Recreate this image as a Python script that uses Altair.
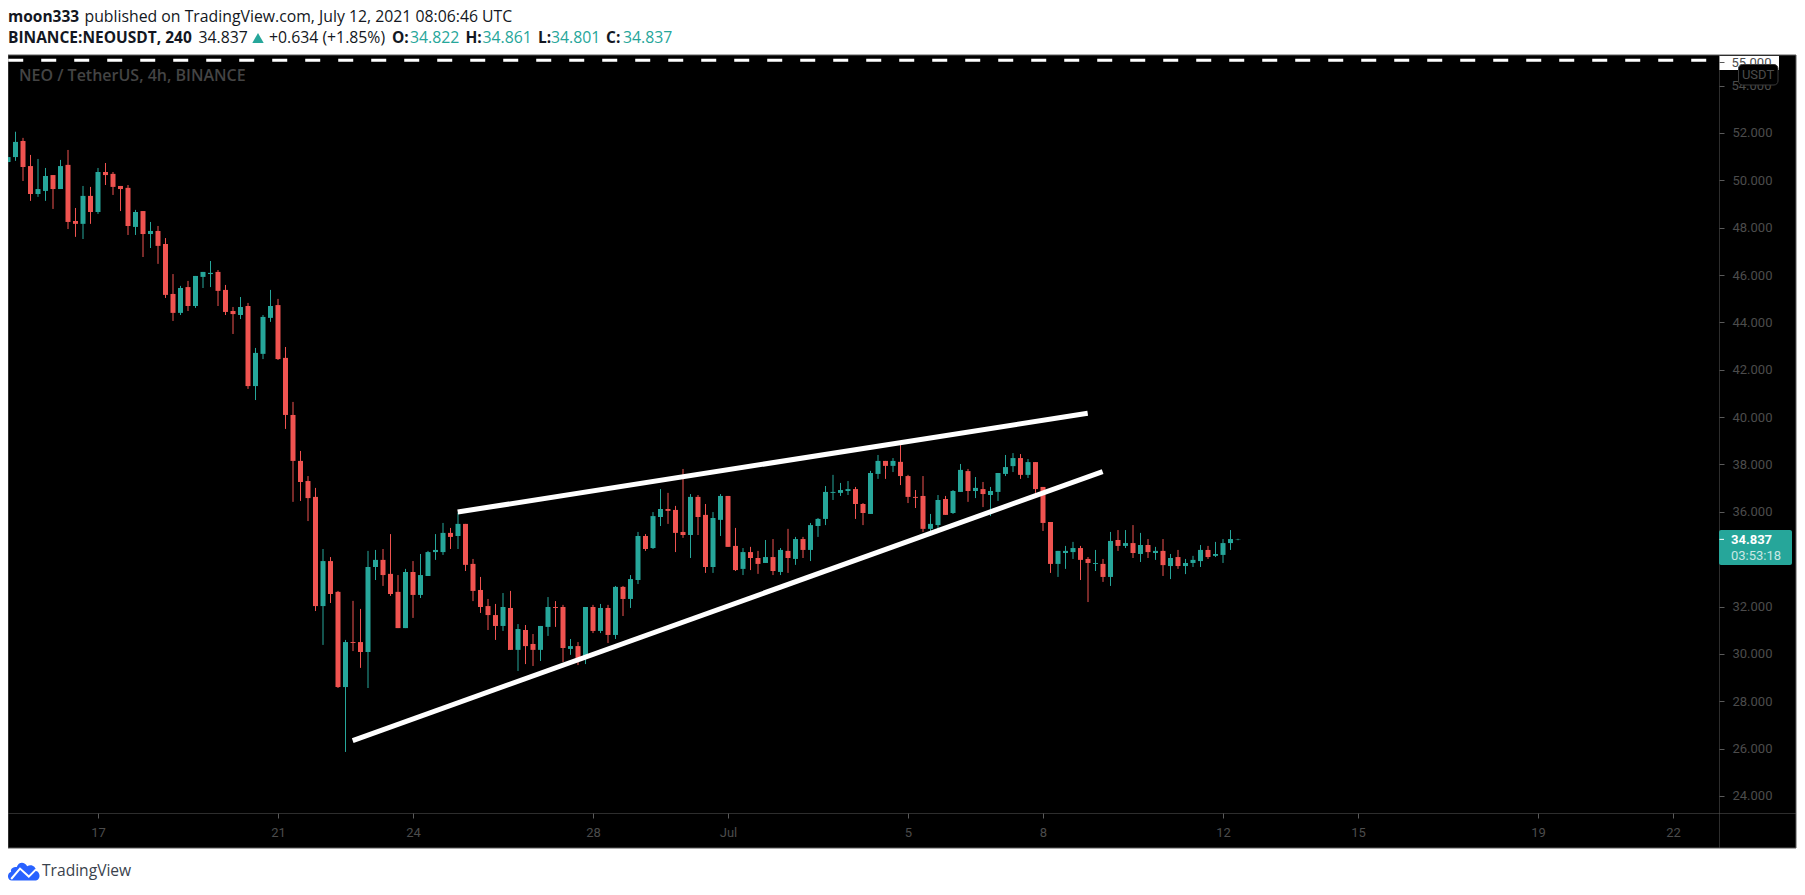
import altair as alt
import pandas as pd

FIRST_INDEX = -1
OPEN = [50.77,50.98,51.66,50.60,49.42,49.55,50.22,49.63,50.65,48.28,48.16,49.34,48.66,50.35,50.27,49.76,49.68,48.03,48.70,47.73,47.86,47.31,45.20,44.40,45.49,44.69,45.92,46.04,46.13,45.37,44.48,44.31,44.69,41.31,42.67,44.19,44.73,42.50,40.09,38.15,37.30,36.63,32.02,33.92,32.62,28.60,30.50,30.50,30.08,33.67,33.97,33.38,32.62,31.09,33.46,32.49,33.29,34.30,34.30,35.11,34.98,35.49,33.80,32.70,32.02,31.64,31.18,31.94,30.17,31.01,30.42,30.17,31.14,31.98,31.98,30.21,30.33,29.83,31.98,30.97,31.94,30.80,32.83,32.32,33.12,34.98,34.47,35.78,36.12,36.08,35.15,35.02,36.63,35.87,33.67,35.66,36.67,34.56,33.59,34.30,34.05,33.84,34.09,33.46,34.35,34.01,34.85,34.39,35.40,35.70,36.80,36.80,36.88,36.96,36.33,35.91,37.60,38.15,37.94,38.11,37.51,36.63,36.67,35.28,35.44,36.54,35.95,36.84,37.72,36.88,36.96,36.71,36.84,37.60,37.93,38.27,37.56,38.10,37.05,35.57,33.80,34.26,34.30,34.47,34.01,33.80,33.80,33.25,34.81,34.56,34.68,34.22,34.60,34.26,34.35,33.71,34.09,33.71,33.84,33.92,34.39,34.14,34.18,34.68,34.822]
HIGH = [50.98,52.05,51.79,51.07,50.90,50.52,50.22,50.86,51.28,48.83,49.76,49.72,50.52,50.73,50.35,49.76,49.80,48.75,48.70,48.24,48.07,47.56,46.04,45.54,45.75,45.96,46.13,46.59,46.21,45.58,44.65,45.07,44.82,42.92,44.31,45.37,44.99,42.96,40.64,38.57,37.51,37.01,34.43,34.09,32.66,30.59,32.24,31.90,34.35,34.39,34.43,35.06,33.33,33.59,33.92,34.22,34.35,35.06,35.53,35.32,35.95,35.49,34.01,33.25,32.32,32.11,32.57,32.66,31.26,31.22,30.84,31.18,32.40,32.23,32.07,30.63,30.50,31.98,32.07,32.11,32.07,32.87,32.87,33.33,35.15,35.06,35.99,36.96,36.80,36.25,37.81,36.75,36.71,36.33,35.99,36.75,36.67,35.32,34.47,34.52,34.35,34.81,34.85,34.47,35.28,34.94,34.94,35.53,35.74,37.09,37.56,37.22,37.30,37.05,36.37,37.73,38.40,38.15,38.27,38.82,37.56,36.92,37.51,35.91,36.71,36.67,36.92,38.02,37.81,37.47,37.26,37.05,37.64,38.40,38.48,38.44,38.23,38.10,37.05,35.57,34.35,34.56,34.73,34.56,34.09,34.39,34.01,35.15,35.23,35.23,35.44,35.11,34.85,34.52,34.85,34.22,34.39,34.01,34.14,34.60,34.56,34.73,34.85,35.23,34.861]
LOW = [50.77,50.82,49.97,49.13,49.30,49.13,48.79,49.63,47.94,47.61,47.52,48.16,48.58,49.80,49.38,48.70,47.69,47.69,46.76,47.14,46.47,45.03,44.06,44.31,44.48,44.61,45.45,45.49,44.69,44.31,43.51,44.14,41.19,40.72,42.45,44.02,42.41,39.50,36.42,36.46,35.61,31.81,30.38,32.15,28.56,25.86,30.12,29.41,28.56,33.12,32.87,32.45,31.09,31.09,31.52,32.36,33.29,33.97,34.18,34.43,34.43,33.50,32.23,31.73,31.01,30.59,30.97,30.17,29.28,29.57,29.49,29.70,30.76,31.14,29.66,29.96,29.53,29.57,30.88,30.88,30.46,30.63,31.60,31.94,32.95,34.35,34.43,35.40,35.49,34.30,34.90,34.05,35.02,33.42,33.42,34.98,34.52,33.50,33.33,33.54,33.38,33.84,33.33,33.33,33.42,33.76,34.05,33.92,34.94,35.44,36.50,36.67,36.71,35.70,35.44,35.91,37.39,37.39,37.68,37.13,36.37,36.16,35.15,35.15,35.19,35.87,35.91,36.84,36.42,36.58,36.20,35.82,36.46,37.51,37.68,37.39,37.43,36.80,35.19,33.42,33.25,33.59,34.01,33.12,32.19,33.50,33.04,32.87,34.35,34.47,34.05,33.88,34.05,33.97,33.29,33.16,33.59,33.37,33.67,33.67,34.01,34.09,33.84,34.39,34.801]
CLOSE = [50.98,51.62,50.56,49.42,49.63,50.18,49.63,50.60,48.24,48.16,49.34,48.66,50.35,50.22,49.72,49.63,48.07,48.66,47.73,47.86,47.23,45.16,44.40,45.45,44.69,45.96,46.13,46.09,45.33,44.44,44.35,44.65,41.31,42.71,44.23,44.69,42.45,40.09,38.15,37.26,36.58,32.02,33.92,32.53,28.60,30.50,30.46,30.08,33.67,33.97,33.33,32.53,31.09,33.46,32.49,33.33,34.30,34.39,35.11,34.94,35.49,33.76,32.66,31.98,31.64,31.18,31.98,30.17,31.05,30.33,30.17,31.18,31.98,31.94,30.25,30.33,29.83,31.98,30.97,31.94,30.80,32.83,32.32,33.16,34.98,34.43,35.82,36.12,36.04,35.11,35.02,36.63,35.78,33.67,35.74,36.67,34.52,33.54,34.30,34.05,33.80,34.09,33.50,34.39,34.05,34.85,34.39,35.44,35.70,36.84,36.84,36.92,36.96,36.33,35.95,37.64,38.15,37.94,38.15,37.51,36.63,36.59,35.28,35.49,36.50,35.87,36.88,37.77,36.88,37.01,36.75,36.88,37.64,37.89,38.27,37.56,38.10,36.96,35.53,33.80,34.35,34.35,34.47,33.97,33.84,33.84,33.25,34.77,34.56,34.68,34.26,34.60,34.30,34.35,33.75,34.05,33.71,33.84,33.97,34.39,34.09,34.22,34.68,34.85,34.837]

PRICE_TICKS = [24, 26, 28, 30, 32, 36, 38, 40, 42, 44, 46, 48, 50, 52, 54, 55]
DATE_TICK_INDEX = [11, 35, 53, 77, 95, 119, 137, 161, 179, 203, 221]
DATE_TICK_TEXT = ["17", "21", "24", "28", "Jul", "5", "8", "12", "15", "19", "22"]

LOWER_TREND_I = [44.96, 144.95]
LOWER_TREND_P = [26.34, 37.70]
UPPER_TREND_I = [58.96, 142.96]
UPPER_TREND_P = [35.99, 40.16]
DASH_I = [-0.97, 227.13]
DASH_P = [55.07, 55.07]
LAST_PRICE = [34.837]

GREEN = "#26a69a"
RED = "#ef5350"
GREY = "#4c4c4c"
FRAME = "#5a5a5a"
FONT = "Open Sans"
AXFONT = "Roboto"

n = len(OPEN)
candles = pd.DataFrame({
    "i": list(range(FIRST_INDEX, FIRST_INDEX + n)),
    "o": OPEN, "h": HIGH, "l": LOW, "c": CLOSE,
})
candles["dir"] = ["up" if c >= o else "down" for o, c in zip(OPEN, CLOSE)]

xs = alt.Scale(domain=[-1, 227.1333], nice=False, zero=False, padding=0)
ys = alt.Scale(domain=[23.282, 55.29], nice=False, zero=False, padding=0)
cs = alt.Scale(domain=["up", "down"], range=[GREEN, RED])

date_map = "{" + ",".join(f'"{k}":"{v}"' for k, v in zip(DATE_TICK_INDEX, DATE_TICK_TEXT)) + "}"
x_axis = alt.Axis(values=DATE_TICK_INDEX, labelExpr=date_map + "[datum.value]", title=None, grid=False,
                  domain=False, tickColor=FRAME, tickSize=5, labelColor=GREY, labelFont=AXFONT,
                  labelFontSize=13, labelPadding=8, labelOverlap=False, labelFlush=False, zindex=1)
y_axis = alt.Axis(orient="right", values=PRICE_TICKS,
                  labelExpr="datum.value >= 54 ? '' : format(datum.value, '.3f')", title=None, grid=False,
                  domain=False, tickColor=FRAME, tickSize=5, labelColor=GREY, labelFont=AXFONT,
                  labelFontSize=13, labelPadding=8, labelOverlap=False, labelFlush=False, zindex=1)

dummy = pd.DataFrame({"_": [0]})


def panel(x, x2, y, y2, **kw):
    return alt.Chart(dummy).mark_rect(**kw).encode(
        x=alt.value(x), x2=alt.value(x2), y=alt.value(y), y2=alt.value(y2))


def txt(s, x, y, size=15.8, color="#131722", weight="normal", font=FONT, align="left"):
    return alt.Chart(dummy).mark_text(fontSize=size, color=color, fontWeight=weight, font=font,
                                      align=align, baseline="middle").encode(
        x=alt.value(x - 8), y=alt.value(y - 55), text=alt.value(s))


def trend(i_vals, p_vals, **kw):
    d = pd.DataFrame({"i": i_vals, "p": p_vals})
    return alt.Chart(d).mark_line(clip=True, **kw).encode(
        x=alt.X("i:Q", scale=xs, axis=x_axis), y=alt.Y("p:Q", scale=ys, axis=y_axis))


base = panel(0, 1788, 0, 793, fill="#000000", stroke=FRAME, strokeWidth=1)
vsep = panel(1711, 1711.5, 0, 793, fill=FRAME)
hsep = panel(0, 1788, 758, 758.5, fill=FRAME)

wicks = alt.Chart(candles).mark_rule(strokeWidth=1, clip=True).encode(
    x=alt.X("i:Q", scale=xs, axis=x_axis),
    y=alt.Y("l:Q", scale=ys, axis=y_axis),
    y2="h:Q",
    color=alt.Color("dir:N", scale=cs, legend=None),
)
bodies = alt.Chart(candles).mark_bar(size=5, clip=True).encode(
    x=alt.X("i:Q", scale=xs, axis=x_axis),
    y=alt.Y("o:Q", scale=ys, axis=y_axis),
    y2="c:Q",
    color=alt.Color("dir:N", scale=cs, legend=None),
)
last_tick = alt.Chart(pd.DataFrame({"p": LAST_PRICE})).mark_rule(color="#ffffff", strokeWidth=1).encode(
    x=alt.value(1711.5), x2=alt.value(1716), y=alt.Y("p:Q", scale=ys, axis=y_axis))

layers = [
    base, vsep, hsep,
    txt("NEO / TetherUS, 4h, BINANCE", 19, 76, size=16, color="#444444", weight=600),
    wicks, bodies,
    trend(LOWER_TREND_I, LOWER_TREND_P, color="#ffffff", strokeWidth=5),
    trend(UPPER_TREND_I, UPPER_TREND_P, color="#ffffff", strokeWidth=5),
    trend(DASH_I, DASH_P, color="#ffffff", strokeWidth=3, strokeDash=[15, 18]),
    # white patch in the top of the price scale
    panel(1711.5, 1771, 1, 15, fill="#ffffff"),
    txt("55.000", 1731.5, 62.5, size=13, color=GREY, font=AXFONT),
    txt("54.000", 1731.5, 85.5, size=13, color=GREY, font=AXFONT),
    panel(1730.5, 1770, 9.5, 30, fill="#000000", stroke="#3a3a3a", strokeWidth=1, cornerRadius=4),
    txt("USDT", 1758, 74.5, size=13, color=GREY, font=AXFONT, align="center"),
    # last price tag
    panel(1711, 1784, 475, 510, fill=GREEN, cornerRadius=2),
    last_tick,
    txt("34.837", 1731, 540, size=13, color="#ffffff", weight="bold", font=AXFONT),
    txt("03:53:18", 1731, 556, size=13, color="#c8e8e4", font=AXFONT),
    # header
    txt("moon333", 8, 17, weight="bold", size=15.5),
    txt("published on TradingView.com, July 12, 2021 08:06:46 UTC", 84.5, 17),
    txt("BINANCE:NEOUSDT, 240", 8, 38, weight="bold", size=15.5),
    txt("34.837", 198.5, 38),
    alt.Chart(dummy).mark_point(shape="triangle-up", filled=True, size=130, color=GREEN, opacity=1).encode(
        x=alt.value(258 - 8), y=alt.value(38 - 55)),
    txt("+0.634 (+1.85%)", 269, 38),
    txt("O:", 392, 38, weight="bold", size=15.5), txt("34.822", 410, 38, color=GREEN),
    txt("H:", 465.5, 38, weight="bold", size=15.5), txt("34.861", 482.5, 38, color=GREEN),
    txt("L:", 538, 38, weight="bold", size=15.5), txt("34.801", 551, 38, color=GREEN),
    txt("C:", 606, 38, weight="bold", size=15.5), txt("34.837", 623, 38, color=GREEN),
    # footer logo
    alt.Chart(dummy).mark_point(
        shape="M-0.75,0.6 L0.7,0.6 C1.05,0.6 1.05,0.05 0.75,0 C0.75,-0.3 0.45,-0.45 0.2,-0.3 C0.05,-0.6 -0.35,-0.6 -0.45,-0.25 C-0.8,-0.25 -0.85,-0.05 -0.8,0.05 C-1.1,0.15 -1.05,0.6 -0.75,0.6 Z",
        filled=True, size=1024, color="#2962ff", opacity=1).encode(x=alt.value(24 - 8), y=alt.value(871 - 55)),
    alt.Chart(dummy).mark_point(
        shape="M-0.8,0.5 L-0.25,-0.15 L0.3,0.35 L0.75,-0.1",
        filled=False, size=1024, color="#ffffff", strokeWidth=2, opacity=1).encode(x=alt.value(24 - 8), y=alt.value(871 - 55)),
    txt("TradingView", 42, 871, size=15.6, color="#3a424d"),
]

chart = alt.layer(*layers).properties(
    width=1711, height=758,
    padding={"left": 0, "top": 47, "right": 78, "bottom": 70},
    autosize=alt.AutoSizeParams(type="none"),
    background="#ffffff",
).configure_view(stroke=None)

chart.save("out.html", embed_options={"renderer": "svg", "actions": False})
